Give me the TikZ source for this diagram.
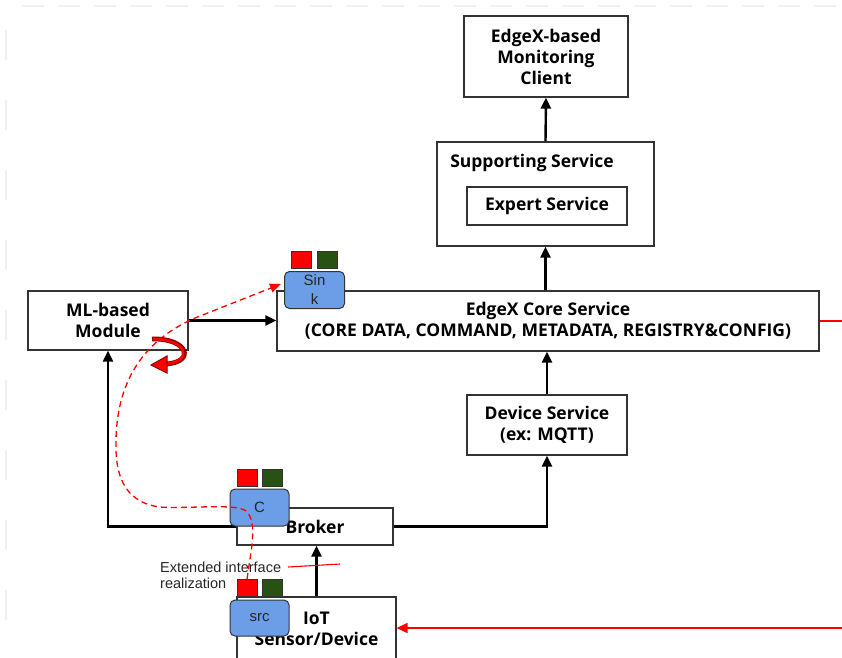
\documentclass[tikz,border=0pt]{standalone}
\usepackage{fontspec}
\setmainfont{Open Sans}
\newfontfamily\lsans{Liberation Sans}
\usetikzlibrary{arrows.meta,calc}
\definecolor{blueb}{RGB}{108,158,232}
\definecolor{sqgreen}{RGB}{40,82,20}
\definecolor{sqred}{RGB}{255,0,0}
\begin{document}
\begin{tikzpicture}[x=1pt,y=-1pt,
  box/.style={draw=black!80, line width=1.2pt, fill=white, align=center, inner sep=0pt,
    font=\bfseries\fontsize{17.5}{21}\selectfont},
  arr/.style={line width=2.4pt, -{Triangle[length=11pt,width=10pt]}},
  bluebox/.style={draw=black!80, line width=1pt, fill=blueb, rounded corners=5pt, align=center,
    inner sep=0pt, font=\lsans\fontsize{15}{19}\selectfont, text=black!85},
  sqr/.style={draw=black!80, line width=0.8pt, fill=sqred, minimum width=20pt, minimum height=17pt, inner sep=0pt},
  sqg/.style={draw=black!80, line width=0.8pt, fill=sqgreen, minimum width=20pt, minimum height=17pt, inner sep=0pt},
  redline/.style={draw=red, line width=1.8pt},
  lbl/.style={font=\lsans\fontsize{14.5}{16}\selectfont, text=black!85, align=left, inner sep=0pt}
]
\useasboundingbox (0,0) rectangle (842,657);
% faint background artifacts
\draw[black!6, line width=1.5pt, dash pattern=on 22pt off 14pt] (22,6) -- (842,6);
\draw[black!6, line width=1.5pt, dash pattern=on 30pt off 40pt] (6,30) -- (6,650);

% boxes
\node[box, minimum width=164pt, minimum height=81pt] (mon) at (546,56.5) {EdgeX-based\\Monitoring\\Client};
\node[box, minimum width=217pt, minimum height=104pt] (sup) at (545.5,194) {};
\node[font=\bfseries\fontsize{17.5}{21}\selectfont, inner sep=0pt] (supt) at (532,163) {Supporting Service};
\node[box, minimum width=160pt, minimum height=38pt] (exp) at (547,206) {Expert Service};
\node[box, minimum width=542pt, minimum height=60pt] (core) at (548,321) {EdgeX Core Service\\(CORE DATA, COMMAND, METADATA, REGISTRY\&CONFIG)};
\node[box, minimum width=160pt, minimum height=60pt] (dev) at (547,425) {Device Service\\(ex: MQTT)};
\node[box, minimum width=160pt, minimum height=59pt] (ml) at (108,320.5) {ML-based\\Module};
\node[box, minimum width=156pt, minimum height=37pt] (broker) at (315,526.5) {\raisebox{-3pt}{Broker}};
\node[box, minimum width=159pt, minimum height=63pt] (iot) at (316.5,628.5) {IoT\\Sensor/Device};

% connectors
\draw[arr] (sup.north) -- (mon.south);
\draw[arr] (core.north -| sup) -- (sup.south);
\draw[arr] (dev.north) -- (dev.north |- core.south);
\draw[arr] (ml.east) -- (ml.east -| core.west);
\draw[arr] (broker.west) -| (ml.south);
\draw[arr] (broker.east) -| (dev.south);
\draw[arr] (iot.north) -- (iot.north |- broker.south);

% red lines
\coordinate (rc) at (842,321);
\draw[redline] (core.east) -- (rc);
\coordinate (ri) at (842,628);
\draw[redline, -{Triangle[length=11pt,width=10pt]}] (ri) -- (iot.east |- ri);

% blue connector boxes and squares
\node[bluebox, minimum width=60pt, minimum height=37pt] (sink) at (314.5,290) {Sin\\k};
\node[sqr] (sinkr) at (301,260) {};
\node[sqg] (sinkg) at (327,260) {};
\node[bluebox, minimum width=59pt, minimum height=37pt] (cbox) at (259.5,507.5) {C};
\node[sqr] (cr) at (247,477.5) {};
\node[sqg] (cg) at (272.5,477.5) {};
\node[bluebox, minimum width=59pt, minimum height=36pt] (src) at (259.5,618) {src};
\node[sqr] (srcr) at (247,588) {};
\node[sqg] (srcg) at (272.5,588) {};

% label
\node[lbl, anchor=west] (ext) at (160,575) {Extended interface\\realization};
\coordinate (ea) at (288,567);
\coordinate (eb) at (340,564);
\draw[red, line width=1.1pt] (ea) -- (eb);

% dashed red curve
\draw[red, line width=1.3pt, dash pattern=on 6pt off 4pt, -{Triangle[length=11pt,width=9pt]}]
  (srcr.north) .. controls (251,550) and (258,522) .. (246,511)
  .. controls (236,503) and (190,509) .. (160,507)
  .. controls (122,502) and (115,472) .. (116,440)
  .. controls (117,385) and (140,342) .. (195,318)
  -- ($(sink.west)+(-3,-6)$);

% red curly arrow near ML module
\draw[red!55!black, line width=4.8pt] (152,339) .. controls (188,338) and (196,362) .. (166,364);
\draw[red, line width=2.6pt] (153,339) .. controls (187,339) and (194,361) .. (166,364);
\filldraw[fill=red, draw=red!55!black, line width=1pt] (151,365) -- (167,356) -- (167,373) -- cycle;
\end{tikzpicture}
\end{document}
